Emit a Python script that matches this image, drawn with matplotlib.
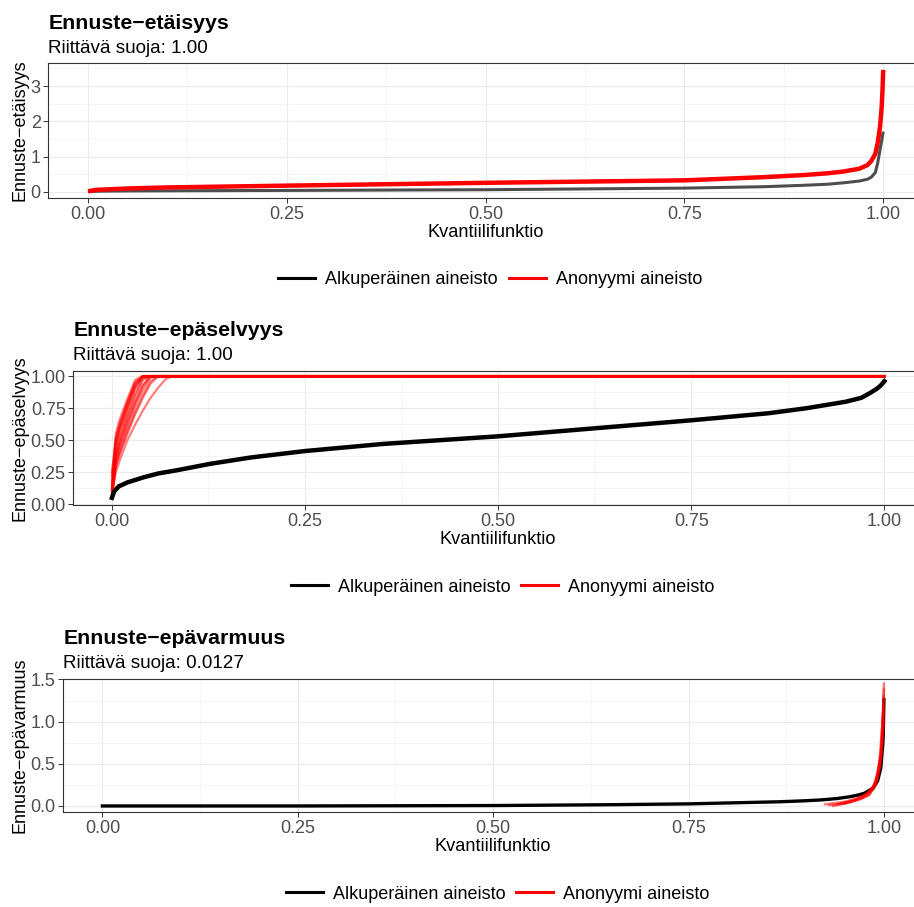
import matplotlib
matplotlib.use("Agg")
import matplotlib.pyplot as plt
from matplotlib.lines import Line2D
from matplotlib.ticker import MultipleLocator

plt.rcParams['font.family'] = ['Liberation Sans', 'DejaVu Sans']

W, H = 914, 907

TITLES = ["Ennuste\u2212etäisyys", "Ennuste\u2212epäselvyys", "Ennuste\u2212epävarmuus"]
SUBTITLES = ["Riittävä suoja: 1.00", "Riittävä suoja: 1.00", "Riittävä suoja: 0.0127"]
YLABELS = TITLES
XLABEL = "Kvantiilifunktio"
LEGEND_LABELS = ["Alkuperäinen aineisto", "Anonyymi aineisto"]

# panel 1: distance
p1_orig_q = [0, 0.05, 0.25, 0.5, 0.75, 0.85, 0.9, 0.93, 0.95, 0.97, 0.98, 0.985, 0.99,
             0.993, 0.996, 0.998, 1.0]
p1_orig_v = [0.02, 0.03, 0.045, 0.065, 0.11, 0.15, 0.19, 0.22, 0.26, 0.31, 0.36, 0.42, 0.55,
             0.82, 1.2, 1.45, 1.71]
p1_anon_q = [0, 0.01, 0.05, 0.1, 0.25, 0.5, 0.75, 0.85, 0.9, 0.93, 0.95, 0.97, 0.98, 0.985,
             0.99, 0.993, 0.996, 0.998, 0.999, 1.0]
p1_anon_v = [0.02, 0.06, 0.1, 0.13, 0.18, 0.26, 0.33, 0.42, 0.48, 0.53, 0.58, 0.66, 0.76, 0.88,
             1.08, 1.39, 1.85, 2.4, 2.85, 3.46]

# panel 2: ambiguity
p2_orig_q = [0, 0.003, 0.009, 0.02, 0.041, 0.06, 0.084, 0.127, 0.18, 0.25, 0.35, 0.5, 0.6,
             0.75, 0.85, 0.9, 0.95, 0.97, 0.982, 0.99, 0.995, 1.0]
p2_orig_v = [0.05, 0.1, 0.14, 0.17, 0.21, 0.24, 0.265, 0.315, 0.365, 0.415, 0.47, 0.53, 0.58,
             0.655, 0.71, 0.75, 0.8, 0.83, 0.87, 0.9, 0.925, 0.96]
p2_anon_q = [0, 0.005, 0.01, 0.02, 0.03, 0.04, 0.05, 0.06, 0.07, 0.08, 1.0]
p2_anon_reps = [
    [0.10, 0.55, 0.66, 0.82, 0.97, 1.0, 1.0, 1.0, 1.0, 1.0, 1.0],
    [0.12, 0.40, 0.52, 0.70, 0.86, 0.98, 1.0, 1.0, 1.0, 1.0, 1.0],
    [0.06, 0.34, 0.46, 0.63, 0.79, 0.92, 1.0, 1.0, 1.0, 1.0, 1.0],
    [0.15, 0.48, 0.60, 0.77, 0.93, 1.0, 1.0, 1.0, 1.0, 1.0, 1.0],
    [0.10, 0.30, 0.40, 0.57, 0.72, 0.85, 0.96, 1.0, 1.0, 1.0, 1.0],
    [0.22, 0.52, 0.63, 0.80, 0.95, 1.0, 1.0, 1.0, 1.0, 1.0, 1.0],
    [0.06, 0.25, 0.34, 0.50, 0.62, 0.73, 0.83, 0.91, 0.98, 1.0, 1.0],
    [0.09, 0.38, 0.50, 0.68, 0.84, 0.97, 1.0, 1.0, 1.0, 1.0, 1.0],
    [0.13, 0.44, 0.56, 0.74, 0.90, 1.0, 1.0, 1.0, 1.0, 1.0, 1.0],
    [0.11, 0.36, 0.47, 0.65, 0.80, 0.93, 1.0, 1.0, 1.0, 1.0, 1.0],
    [0.05, 0.29, 0.39, 0.55, 0.70, 0.83, 0.94, 1.0, 1.0, 1.0, 1.0],
    [0.18, 0.46, 0.58, 0.75, 0.91, 1.0, 1.0, 1.0, 1.0, 1.0, 1.0],
    [0.08, 0.32, 0.43, 0.60, 0.76, 0.89, 0.99, 1.0, 1.0, 1.0, 1.0],
    [0.25, 0.50, 0.61, 0.79, 0.94, 1.0, 1.0, 1.0, 1.0, 1.0, 1.0],
]

# panel 3: uncertainty
p3_orig_q = [0, 0.25, 0.5, 0.65, 0.75, 0.867, 0.9, 0.92, 0.94, 0.957, 0.967, 0.975, 0.986,
             0.992, 0.996, 0.999, 1.0]
p3_orig_v = [0.0, 0.0, 0.005, 0.015, 0.025, 0.05, 0.062, 0.072, 0.088, 0.11, 0.13, 0.15, 0.21,
             0.3, 0.45, 0.8, 1.26]
p3_anon_q = [
    [0.925, 0.95, 0.97, 0.98, 0.99, 0.995, 0.998, 1.0],
    [0.935, 0.955, 0.97, 0.982, 0.99, 0.996, 1.0],
    [0.945, 0.96, 0.975, 0.985, 0.992, 0.997, 1.0],
    [0.93, 0.95, 0.965, 0.98, 0.988, 0.994, 1.0],
    [0.95, 0.965, 0.978, 0.988, 0.993, 0.997, 1.0],
    [0.94, 0.958, 0.972, 0.984, 0.991, 0.996, 1.0],
]
p3_anon_v = [
    [0.02, 0.05, 0.10, 0.15, 0.25, 0.45, 0.8, 1.45],
    [0.0, 0.04, 0.08, 0.14, 0.3, 0.6, 1.3],
    [0.03, 0.06, 0.12, 0.2, 0.38, 0.7, 1.1],
    [0.01, 0.03, 0.07, 0.12, 0.22, 0.5, 1.2],
    [0.04, 0.08, 0.15, 0.25, 0.42, 0.65, 1.0],
    [0.02, 0.05, 0.1, 0.18, 0.3, 0.55, 1.38],
]

# panel boxes in pixels: left, right, top, bottom
BOXES = [(48.3, 923, 63.3, 198), (73.3, 923, 370.7, 505), (63.3, 923, 678.5, 812.3)]
YLIMS = [(-0.17, 3.645), (-0.006, 1.042), (-0.075, 1.511)]
YSTEPS = [1, 0.25, 0.5]
YFMT = ["{:.0f}", "{:.2f}", "{:.1f}"]

fig = plt.figure(figsize=(W / 100, H / 100), dpi=100)


def style_axes(ax, i):
    ax.set_xlim(-0.05, 1.05)
    ax.set_ylim(*YLIMS[i])
    ax.xaxis.set_major_locator(MultipleLocator(0.25))
    ax.xaxis.set_minor_locator(MultipleLocator(0.125))
    ax.yaxis.set_major_locator(MultipleLocator(YSTEPS[i]))
    ax.yaxis.set_minor_locator(MultipleLocator(YSTEPS[i] / 2))
    ax.set_xticks([0, 0.25, 0.5, 0.75, 1.0])
    ax.set_xticklabels(["0.00", "0.25", "0.50", "0.75", "1.00"])
    yt = [t for t in ax.get_yticks() if YLIMS[i][0] <= t <= YLIMS[i][1]]
    ax.set_yticks(yt)
    ax.set_yticklabels([YFMT[i].format(t) for t in yt])
    ax.set_ylim(*YLIMS[i])
    ax.grid(True, which='major', color='#EBEBEB', lw=0.8)
    ax.grid(True, which='minor', color='#F2F2F2', lw=0.5)
    ax.set_axisbelow(True)
    ax.tick_params(which='major', length=3.5, width=0.7, color='#333333',
                   labelcolor='#4D4D4D', labelsize=13.0, pad=2.0)
    ax.tick_params(which='minor', length=0)
    for s in ax.spines.values():
        s.set_color('#333333')
        s.set_linewidth(0.8)


axes = []
for i, (l, r, t, b) in enumerate(BOXES):
    ax = fig.add_axes([l / W, 1 - b / H, (r - l) / W, (b - t) / H])
    style_axes(ax, i)
    axes.append(ax)

    fig.text(l / W, 1 - (t - 34.4) / H, TITLES[i], fontsize=15.3, fontweight='bold',
             ha='left', va='baseline')
    fig.text(l / W, 1 - (t - 10.7) / H, SUBTITLES[i], fontsize=13.6,
             ha='left', va='baseline')
    fig.text((l + r) / 2 / W, 1 - (b + 39) / H, XLABEL, fontsize=13.1,
             ha='center', va='baseline')
    fig.text(20 / W, 1 - (t + b) / 2 / H, YLABELS[i], fontsize=13.0, rotation=90,
             ha='center', va='center')
    handles = [Line2D([], [], color='black', lw=2.2), Line2D([], [], color='red', lw=2.2)]
    fig.legend(handles, LEGEND_LABELS, loc='center', ncol=2, frameon=False,
               fontsize=13, handlelength=2.05, handletextpad=0.55, columnspacing=0.6,
               bbox_to_anchor=((l + r) / 2 / W + 0.005, 1 - (b + 82) / H))

ax1, ax2, ax3 = axes

# panel 1
ax1.plot(p1_orig_q, p1_orig_v, color='#4d4d4d', lw=2.2, solid_capstyle='butt')
ax1.plot(p1_anon_q, p1_anon_v, color='red', lw=3.2, solid_capstyle='butt')

# panel 2
for rep in p2_anon_reps:
    ax2.plot(p2_anon_q, rep, color='red', lw=1.6, alpha=0.5)
ax2.plot(p2_orig_q, p2_orig_v, color='black', lw=3.2)
ax2.plot([p2_anon_q[5], p2_anon_q[-1]], [1.0, 1.0], color='red', lw=2.0)

# panel 3
ax3.plot(p3_orig_q, p3_orig_v, color='black', lw=2.4)
for q, v in zip(p3_anon_q, p3_anon_v):
    ax3.plot(q, v, color='red', lw=1.8, alpha=0.5)

fig.savefig("out.png", dpi=100)
